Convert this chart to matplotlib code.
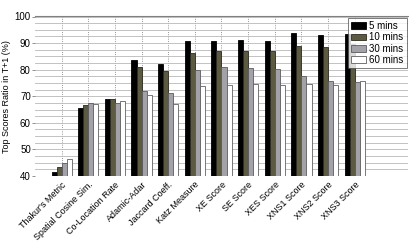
import numpy as np
import matplotlib
matplotlib.use('Agg')
import matplotlib.pyplot as plt

plt.rcParams['font.family'] = ['Liberation Sans', 'DejaVu Sans']

methods = ["Thakur's Metric", "Spatial Cosine Sim.", "Co-Location Rate", "Adamic-Adar",
           "Jaccard Coeff.", "Katz Measure", "XE Score", "SE Score", "XES Score",
           "XNS1 Score", "XNS2 Score", "XNS3 Score"]
series_names = ["5 mins", "10 mins", "30 mins", "60 mins"]
mins5 = [41.6, 65.7, 68.9, 83.7, 82.3, 90.9, 90.9, 91.3, 90.9, 93.9, 93.0, 93.5]
mins10 = [43.3, 66.6, 68.8, 81.0, 79.5, 86.4, 86.9, 87.0, 86.9, 88.9, 88.6, 89.5]
mins30 = [45.0, 67.3, 67.6, 71.9, 71.1, 79.7, 80.9, 80.5, 80.4, 77.5, 75.6, 75.2]
mins60 = [46.3, 67.0, 68.2, 70.5, 67.0, 74.0, 74.1, 74.5, 74.1, 74.5, 74.4, 75.9]

colors = ['#000000', '#5c5b41', '#a2a2a8', '#ffffff']
edges = ['#000000', '#2a2a20', '#5a5a60', '#606060']

fig = plt.figure(figsize=(4.1, 2.49), dpi=100)
ax = fig.add_axes([35 / 410, 1 - 176 / 249, 373 / 410, (176 - 16.5) / 249])

x = np.arange(1, len(methods) + 1)
w = 0.19
for i, vals in enumerate([mins5, mins10, mins30, mins60]):
    ax.bar(x + (i - 1.5) * w, vals, w, color=colors[i], edgecolor=edges[i],
           linewidth=0.6, label=series_names[i], zorder=3)

ax.set_xlim(0, 14)
ax.set_ylim(40, 100)
ax.set_yticks(np.arange(40, 101, 10))
ax.set_yticks(np.arange(40, 100.1, 2.5), minor=True)
ax.set_xticks(x)
ax.set_xticklabels(methods, rotation=45, ha='right', rotation_mode='anchor', fontsize=6.5)
ax.tick_params(axis='y', labelsize=7, length=2, width=0.6, color='#808080', pad=1)
ax.tick_params(axis='y', which='minor', length=0)
ax.tick_params(axis='x', length=0, pad=3)

ax.grid(True, axis='y', which='both', color='#b8b8b8', linewidth=0.6, zorder=0)
ax.grid(True, axis='x', color='#707070', linestyle=':', linewidth=0.6, zorder=0)
for s in ['left', 'right', 'bottom']:
    ax.spines[s].set_visible(False)
ax.spines['top'].set_color('#808080')
ax.spines['top'].set_linewidth(0.8)

ax.set_ylabel('Top Scores Ratio in T+1 (%)', fontsize=6.5, labelpad=3)

leg = ax.legend(loc='upper right', fontsize=7, frameon=True, fancybox=False,
                borderpad=0.3, labelspacing=0.15, handlelength=1.6, handletextpad=0.3,
                borderaxespad=0.15)
leg.get_frame().set_edgecolor('#404040')
leg.get_frame().set_linewidth(0.6)

fig.savefig('out.png', dpi=100)
